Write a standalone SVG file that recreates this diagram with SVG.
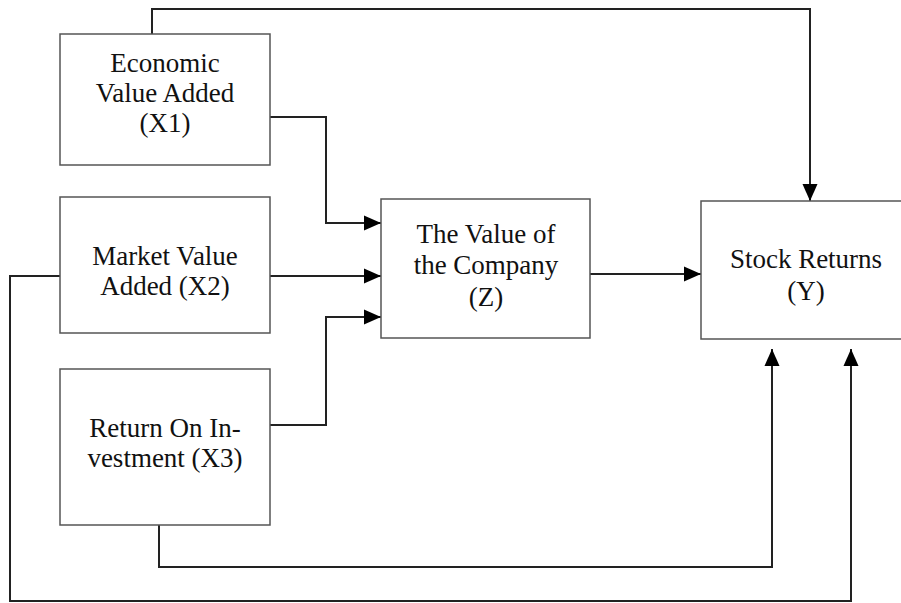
<svg xmlns="http://www.w3.org/2000/svg" width="901" height="603" viewBox="0 0 901 603">
<style>
.box{fill:#fff;stroke:#555;stroke-width:1.5}
.lbl{font-family:"Liberation Serif","Times New Roman",serif;font-size:27px;fill:#111;text-anchor:middle}
.con{fill:none;stroke:#222;stroke-width:2}
</style>
<defs>
<marker id="arr" markerUnits="userSpaceOnUse" markerWidth="17" markerHeight="16" refX="17" refY="8" orient="auto">
<path d="M0,0.5 L17,8 L0,15.5 z" fill="#000"/>
</marker>
</defs>
<rect width="901" height="603" fill="#fff"/>
<g id="connectors">
<path class="con" d="M270,117 H326 V223 H381" marker-end="url(#arr)"/>
<path class="con" d="M270,276 H381" marker-end="url(#arr)"/>
<path class="con" d="M270,425 H326 V317 H381" marker-end="url(#arr)"/>
<path class="con" d="M590,274 H701" marker-end="url(#arr)"/>
<path class="con" d="M152,34 V9 H810 V201" marker-end="url(#arr)"/>
<path class="con" d="M60,276 H10 V601 H851 V349" marker-end="url(#arr)"/>
<path class="con" d="M159,525 V567 H772 V349" marker-end="url(#arr)"/>
</g>
<g id="x1">
<rect class="box" x="60" y="34" width="210" height="131"/>
<text class="lbl" x="165" y="72">Economic</text>
<text class="lbl" x="165" y="102">Value Added</text>
<text class="lbl" x="165" y="132">(X1)</text>
</g>
<g id="x2">
<rect class="box" x="60" y="197" width="210" height="136"/>
<text class="lbl" x="165" y="265">Market Value</text>
<text class="lbl" x="165" y="295">Added (X2)</text>
</g>
<g id="x3">
<rect class="box" x="60" y="369" width="210" height="156"/>
<text class="lbl" x="165" y="437">Return On In-</text>
<text class="lbl" x="165" y="467">vestment (X3)</text>
</g>
<g id="z">
<rect class="box" x="381" y="199" width="209" height="139"/>
<text class="lbl" x="486" y="243">The Value of</text>
<text class="lbl" x="486" y="274">the Company</text>
<text class="lbl" x="486" y="306">(Z)</text>
</g>
<g id="y">
<rect class="box" x="701" y="201" width="212" height="138"/>
<text class="lbl" x="806" y="268">Stock Returns</text>
<text class="lbl" x="806" y="300">(Y)</text>
</g>
</svg>
